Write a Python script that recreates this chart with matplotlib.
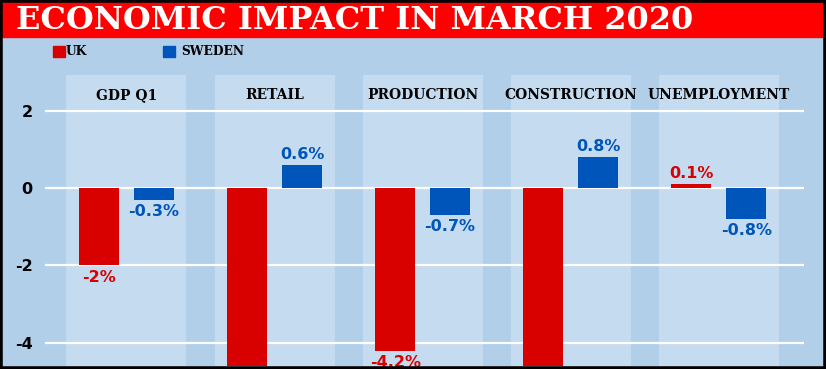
import numpy as np
import matplotlib.pyplot as plt
from matplotlib.patches import Rectangle

# Datos
categorias = ['GDP Q1', 'RETAIL', 'PRODUCTION', 'CONSTRUCTION', 'UNEMPLOYMENT']
uk = [-2.0, -5.1, -4.2, -5.9, 0.1]
suecia = [-0.3, 0.6, -0.7, 0.8, -0.8]
etiquetas_uk = ['-2%', '-5.1%', '-4.2%', '-5.9%', '0.1%']
etiquetas_se = ['-0.3%', '0.6%', '-0.7%', '0.8%', '-0.8%']
ticks_y = [-4, -2, 0, 2]
titulo = 'ECONOMIC IMPACT IN MARCH 2020'

# Colores
fondo = '#b2cfea'
panel = '#c5dbef'
rojo = '#d90000'
azul = '#0055bb'
rojo_cab = '#ff0000'

W, H = 826, 369
fig = plt.figure(figsize=(W / 100, H / 100), dpi=100, facecolor=fondo)

# cabecera roja
fig.patches.append(Rectangle((0, 1 - 37 / H), 1, 37 / H, transform=fig.transFigure,
                             color=rojo_cab, zorder=0))
fig.text(16 / W, 1 - 20.5 / H, titulo, color='white', fontsize=23, fontweight='bold',
         family='DejaVu Serif', va='center', ha='left')

# leyenda
fig.patches.append(Rectangle((53 / W, 1 - 57 / H), 12 / W, 11 / H, transform=fig.transFigure,
                             color=rojo))
fig.text(66 / W, 1 - 51.5 / H, 'UK', fontsize=8.8, fontweight='bold',
         family='DejaVu Serif', va='center', ha='left')
fig.patches.append(Rectangle((163 / W, 1 - 57 / H), 12 / W, 11 / H, transform=fig.transFigure,
                             color=azul))
fig.text(181 / W, 1 - 51.5 / H, 'SWEDEN', fontsize=8.8, fontweight='bold',
         family='DejaVu Serif', va='center', ha='left')

ax = fig.add_axes([45 / W, 3 / H, (804 - 45) / W, (366 - 37) / H])
ax.set_facecolor('none')

x = np.arange(len(categorias))
ymin, ymax = -4.594, 3.897
ancho = 0.27
desp = 0.185

# paneles claros detras de cada grupo
ax.bar(x, 2.92 - ymin, bottom=ymin, width=0.81, color=panel, zorder=0)

b1 = ax.bar(x - desp, uk, width=ancho, color=rojo, zorder=3)
b2 = ax.bar(x + desp, suecia, width=ancho, color=azul, zorder=3)

for barras, vals, etqs, col in [(b1, uk, etiquetas_uk, rojo), (b2, suecia, etiquetas_se, azul)]:
    for b, v, t in zip(barras, vals, etqs):
        ax.annotate(t, (b.get_x() + b.get_width() / 2, v),
                    xytext=(0, 2 if v > 0 else -3), textcoords='offset points',
                    ha='center', va='bottom' if v > 0 else 'top',
                    color=col, fontsize=11.5, fontweight='heavy', family='DejaVu Sans')

for i, c in enumerate(categorias):
    ax.text(i, 2.4, c, ha='center', va='center', fontsize=10, fontweight='bold',
            family='DejaVu Serif')

for t in ticks_y:
    ax.axhline(t, color='white', lw=1.6, zorder=1)

ax.set_xlim(-0.55, 4.575)
ax.set_ylim(ymin, ymax)
ax.set_yticks(ticks_y)
ax.set_yticklabels([str(t) for t in ticks_y], fontsize=11.5, fontweight='bold')
ax.tick_params(axis='y', length=0, pad=9)
ax.set_xticks([])
for s in ax.spines.values():
    s.set_visible(False)

# marco negro
fig.patches.append(Rectangle((0, 0), 1, 1, transform=fig.transFigure, fill=False,
                             edgecolor='black', linewidth=4, zorder=10))

plt.savefig('out.png', dpi=100, facecolor=fondo)
